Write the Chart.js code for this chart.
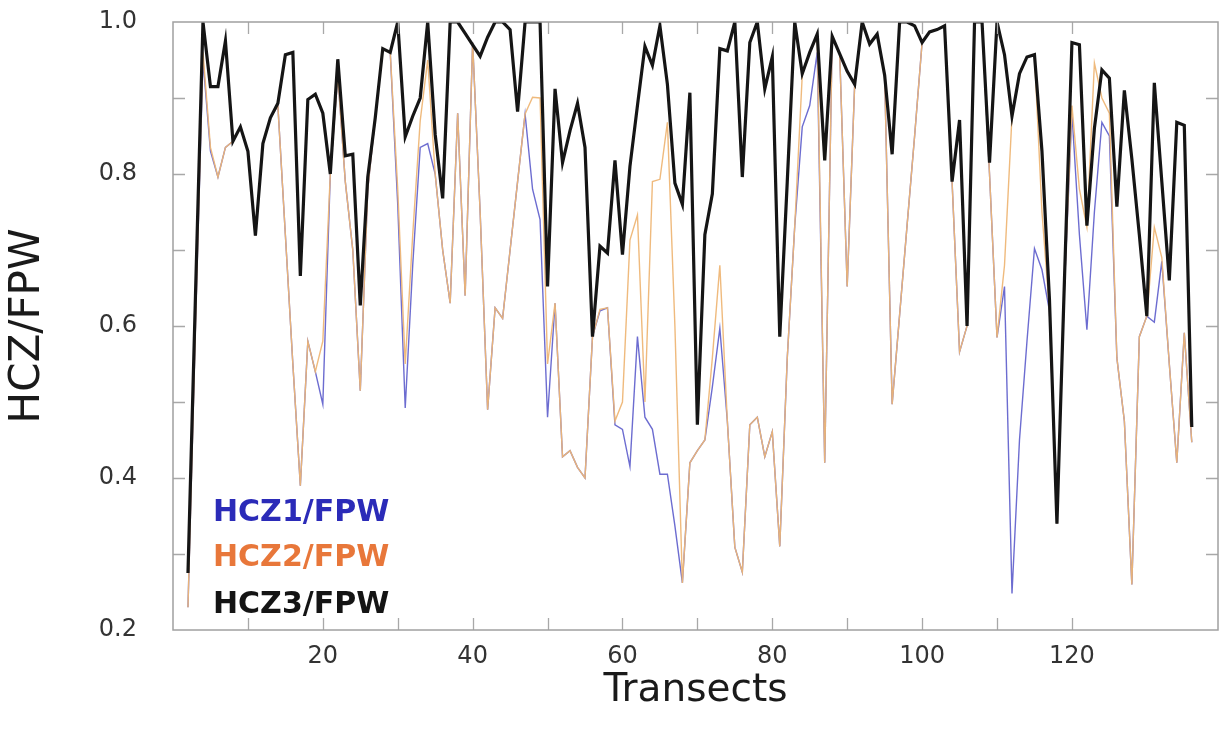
<!DOCTYPE html>
<html>
<head>
<meta charset="utf-8">
<script src="https://cdn.jsdelivr.net/npm/chart.js@4.4.1/dist/chart.umd.min.js"></script>
<style>
html,body{margin:0;padding:0;background:#ffffff;}
#wrap{width:1225px;height:736px;}
</style>
</head>
<body>
<div id="wrap"><canvas id="c" width="1225" height="736"></canvas></div>
<script>
const transects = [2,3,4,5,6,7,8,9,10,11,12,13,14,15,16,17,18,19,20,21,22,23,24,25,26,27,28,29,30,31,32,33,34,35,36,37,38,39,40,41,42,43,44,45,46,47,48,49,50,51,52,53,54,55,56,57,58,59,60,61,62,63,64,65,66,67,68,69,70,71,72,73,74,75,76,77,78,79,80,81,82,83,84,85,86,87,88,89,90,91,92,93,94,95,96,97,98,99,100,101,102,103,104,105,106,107,108,109,110,111,112,113,114,115,116,117,118,119,120,121,122,123,124,125,126,127,128,129,130,131,132,133,134,135,136];

const hcz1 = [0.23,0.60,0.95,0.83,0.796,0.835,0.843,0.862,0.83,0.719,
0.84,0.874,0.89,0.72,0.55,0.39,0.58,0.54,0.497,0.80,
0.93,0.79,0.70,0.515,0.78,0.874,0.965,0.96,0.76,0.492,
0.68,0.835,0.84,0.80,0.70,0.63,0.88,0.64,0.973,0.75,
0.49,0.624,0.61,0.70,0.79,0.879,0.78,0.74,0.48,0.63,
0.428,0.436,0.414,0.40,0.586,0.62,0.624,0.47,0.464,0.415,
0.586,0.48,0.464,0.405,0.405,0.337,0.262,0.42,0.436,0.45,
0.52,0.597,0.475,0.309,0.276,0.47,0.48,0.428,0.461,0.31,
0.558,0.732,0.862,0.89,0.96,0.42,0.98,0.958,0.652,0.918,
1.0,0.971,0.984,0.93,0.497,0.615,0.733,0.85,0.973,0.987,
0.99,0.995,0.79,0.566,0.6,1.0,1.0,0.80,0.585,0.652,
0.248,0.45,0.58,0.702,0.674,0.62,0.34,0.65,0.88,0.72,
0.595,0.75,0.868,0.85,0.558,0.475,0.26,0.586,0.613,0.605,
0.685,0.55,0.42,0.591,0.447];

const hcz2 = [0.23,0.60,0.96,0.835,0.796,0.835,0.843,0.862,0.83,0.719,
0.84,0.874,0.89,0.72,0.55,0.39,0.58,0.54,0.58,0.80,
0.93,0.79,0.70,0.515,0.78,0.874,0.965,0.96,0.78,0.55,
0.72,0.87,0.95,0.80,0.70,0.63,0.88,0.64,0.973,0.75,
0.49,0.624,0.61,0.70,0.79,0.879,0.901,0.90,0.55,0.63,
0.428,0.436,0.414,0.40,0.586,0.622,0.624,0.475,0.50,0.713,
0.746,0.50,0.79,0.793,0.868,0.60,0.262,0.42,0.436,0.45,
0.558,0.68,0.475,0.309,0.276,0.47,0.48,0.428,0.461,0.31,
0.558,0.732,0.93,0.96,0.98,0.42,0.98,0.958,0.652,0.918,
1.0,0.971,0.984,0.93,0.497,0.615,0.733,0.85,0.973,0.987,
0.99,0.995,0.79,0.566,0.6,1.0,1.0,0.80,0.585,0.68,
0.876,0.932,0.954,0.957,0.75,0.62,0.34,0.65,0.89,0.78,
0.73,0.946,0.90,0.88,0.558,0.475,0.26,0.586,0.613,0.73,
0.69,0.55,0.42,0.591,0.447];

const hcz3 = [0.275,0.64,1.0,0.915,0.915,0.975,0.843,0.862,0.83,0.719,
0.84,0.874,0.893,0.957,0.96,0.666,0.898,0.905,0.88,0.80,
0.951,0.824,0.826,0.627,0.796,0.874,0.965,0.96,1.0,0.849,
0.876,0.90,1.0,0.852,0.768,1.0,1.0,0.985,0.97,0.955,
0.98,1.0,1.0,0.99,0.882,1.0,1.0,1.0,0.652,0.912,
0.815,0.857,0.893,0.835,0.586,0.705,0.696,0.818,0.694,0.81,
0.89,0.968,0.943,0.995,0.918,0.788,0.76,0.907,0.47,0.72,
0.774,0.965,0.962,1.0,0.796,0.973,1.0,0.912,0.954,0.586,
0.79,1.0,0.932,0.96,0.984,0.818,0.981,0.958,0.935,0.918,
1.0,0.971,0.984,0.93,0.826,1.0,1.0,0.995,0.973,0.987,
0.99,0.995,0.79,0.871,0.6,1.0,1.0,0.815,1.0,0.957,
0.876,0.932,0.954,0.957,0.83,0.635,0.34,0.66,0.973,0.97,
0.732,0.86,0.937,0.926,0.757,0.91,0.82,0.72,0.613,0.92,
0.79,0.66,0.868,0.864,0.467];

const seriesLabels = ['HCZ1/FPW', 'HCZ2/FPW', 'HCZ3/FPW'];
const xTitle = 'Transects';
const yTitle = 'HCZ/FPW';

function toPoints(vals) {
  return transects.map((x, i) => ({x: x, y: vals[i]}));
}

const FONT = '"DejaVu Sans", "Liberation Sans", Arial, sans-serif';

const frameTicks = {
  id: 'frameTicks',
  afterDatasetsDraw(chart) {
    const ctx = chart.ctx;
    const a = chart.chartArea;
    const xs = chart.scales.x, ys = chart.scales.y;
    const len = 12;
    ctx.save();
    ctx.strokeStyle = '#a8a8a8';
    ctx.lineWidth = 1.3;
    ctx.beginPath();
    xs.ticks.forEach(t => {
      const v = t.value;
      if (v <= xs.min || v >= xs.max || Math.abs(v % 10) > 1e-6) return;
      const px = Math.round(xs.getPixelForValue(v)) + 0.5;
      ctx.moveTo(px, a.bottom); ctx.lineTo(px, a.bottom - len);
      ctx.moveTo(px, a.top); ctx.lineTo(px, a.top + len);
    });
    ys.ticks.forEach(t => {
      const v = t.value;
      if (v <= ys.min + 1e-6 || v >= ys.max - 1e-6) return;
      const py = Math.round(ys.getPixelForValue(v)) + 0.5;
      ctx.moveTo(a.left, py); ctx.lineTo(a.left + len, py);
      ctx.moveTo(a.right, py); ctx.lineTo(a.right - len, py);
    });
    ctx.stroke();
    ctx.strokeStyle = '#a0a0a0';
    ctx.lineWidth = 1.5;
    ctx.strokeRect(a.left, a.top, a.right - a.left, a.bottom - a.top);
    ctx.restore();
  },
  afterDraw(chart) {
    const ctx = chart.ctx;
    const colors = ['#2b2bb8', '#e8773a', '#141414'];
    const ys = [513, 558, 605];
    ctx.save();
    ctx.font = 'bold 30px ' + FONT;
    ctx.textAlign = 'left';
    ctx.textBaseline = 'middle';
    seriesLabels.forEach((lab, i) => {
      ctx.fillStyle = colors[i];
      ctx.fillText(lab, 213, ys[i]);
    });
    ctx.restore();
  }
};

new Chart(document.getElementById('c'), {
  type: 'line',
  data: {
    datasets: [
      {label: seriesLabels[2], data: toPoints(hcz3), borderColor: '#151515', borderWidth: 3.2, pointRadius: 0, tension: 0, fill: false, order: 0},
      {label: seriesLabels[1], data: toPoints(hcz2), borderColor: 'rgba(238,182,118,0.95)', borderWidth: 1.4, pointRadius: 0, tension: 0, fill: false, order: 1},
      {label: seriesLabels[0], data: toPoints(hcz1), borderColor: 'rgba(100,100,205,0.95)', borderWidth: 1.4, pointRadius: 0, tension: 0, fill: false, order: 2}
    ]
  },
  options: {
    responsive: false,
    animation: false,
    layout: {padding: {top: 22, right: 7, left: 0, bottom: 0}},
    plugins: {legend: {display: false}, tooltip: {enabled: false}},
    scales: {
      x: {
        type: 'linear', min: 0, max: 139.5,
        grid: {display: false}, border: {display: false},
        ticks: {
          stepSize: 10, autoSkip: false, maxRotation: 0, padding: 4,
          color: '#333333', font: {family: FONT, size: 24},
          callback: v => (v > 0 && Math.abs(v % 20) < 1e-6) ? String(v) : ''
        },
        title: {display: true, text: xTitle, color: '#1a1a1a', font: {family: FONT, size: 39, lineHeight: 1.2}, padding: {top: 0, bottom: 22}},
        afterFit(s) { s.height = 106; s.paddingLeft = 0; s.paddingRight = 0; }
      },
      y: {
        min: 0.2, max: 1.0,
        grid: {display: false}, border: {display: false},
        ticks: {
          stepSize: 0.1, autoSkip: false, padding: 28,
          color: '#333333', font: {family: FONT, size: 24},
          callback: v => { const r = Math.round(v * 10); return r % 2 === 0 ? (r / 10).toFixed(1) : ''; }
        },
        title: {display: true, text: yTitle, color: '#1a1a1a', font: {family: FONT, size: 42, lineHeight: 1.2}, padding: {top: 3, bottom: 0}},
        afterFit(s) { s.width = 173; s.paddingTop = 0; s.paddingBottom = 0; }
      }
    }
  },
  plugins: [frameTicks]
});
</script>
</body>
</html>
